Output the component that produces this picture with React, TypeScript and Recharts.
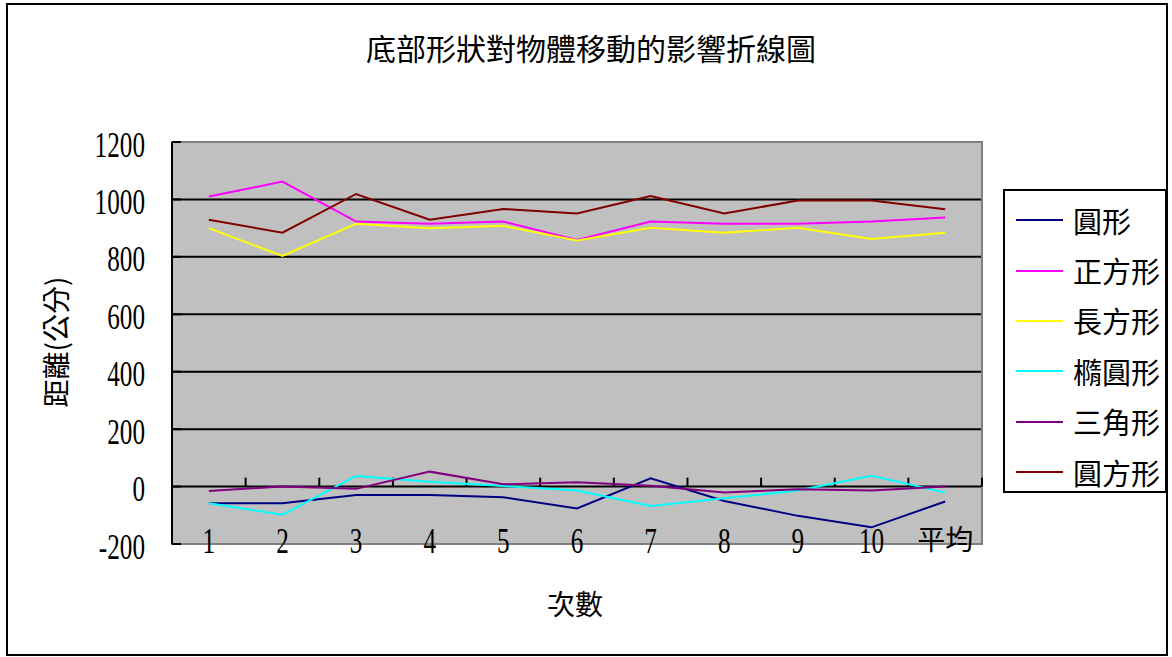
import { CartesianGrid, Line, LineChart, ReferenceArea, ReferenceLine, XAxis, YAxis } from "recharts";

// 次數 (category axis)
const categories = ["1", "2", "3", "4", "5", "6", "7", "8", "9", "10", "平均"];

// 距離(公分) per shape
const circle = [-58, -58, -29, -29, -37, -76, 29, -50, -102, -142, -52];
const square = [1010, 1062, 923, 915, 923, 859, 923, 915, 915, 923, 937];
const rectangle = [900, 803, 915, 900, 908, 857, 901, 884, 901, 862, 884];
const ellipse = [-58, -98, 37, 17, 2, -14, -68, -41, -14, 38, -21];
const triangle = [-15, 0, -8, 52, 8, 15, 3, -21, -9, -14, 0];
const roundSquare = [929, 884, 1019, 929, 967, 951, 1012, 951, 996, 996, 966];

const yTicks = [-200, 0, 200, 400, 600, 800, 1000, 1200];
const gridValues = [0, 200, 400, 600, 800, 1000];

const series = [
  { name: "圓形", values: circle, color: "#000080" },
  { name: "正方形", values: square, color: "#FF00FF" },
  { name: "長方形", values: rectangle, color: "#FFFF00" },
  { name: "橢圓形", values: ellipse, color: "#00FFFF" },
  { name: "三角形", values: triangle, color: "#800080" },
  { name: "圓方形", values: roundSquare, color: "#800000" },
];

const data = categories.map((c, i) => {
  const row: Record<string, string | number> = { name: c };
  series.forEach((s) => (row[s.name] = s.values[i]));
  return row;
});

const FONT_CJK = '"Noto Sans CJK TC", "Noto Sans CJK SC", sans-serif';
const FONT_NUM = '"Liberation Serif", "DejaVu Serif", serif';

function NumText({ x, y, text, anchor }: { x: number; y: number; text: string; anchor: "start" | "middle" | "end" }) {
  return (
    <text
      transform={`translate(${x},${y}) scale(0.72,1)`}
      textAnchor={anchor}
      dy="0.36em"
      fontFamily={FONT_NUM}
      fontSize={35}
      fill="#000"
    >
      {text}
    </text>
  );
}

function YTick({ x, y, payload }: any) {
  return <NumText x={x} y={y + 2} text={String(payload.value)} anchor="end" />;
}

function XTick({ x, y, payload }: any) {
  const v = String(payload.value);
  if (/^\d+$/.test(v)) return <NumText x={x} y={y - 4} text={v} anchor="middle" />;
  return (
    <text x={x} y={y - 4} dy="0.36em" textAnchor="middle" fontFamily={FONT_CJK} fontSize={28} fill="#000">
      {v}
    </text>
  );
}

// tick marks on the zero line sit between categories and at the right edge
const tickMarks = [
  ...categories.slice(1).map((c) => ({ cat: c, position: "start" as const })),
  { cat: categories[categories.length - 1], position: "end" as const },
];

export default function App() {
  return (
    <div style={{ position: "absolute", left: 0, top: 0, width: 1172, height: 657, background: "#fff", fontFamily: FONT_CJK }}>
      <div
        style={{
          position: "absolute",
          left: 6,
          top: 3,
          width: 1162,
          height: 653,
          border: "2px solid #000",
          boxSizing: "border-box",
        }}
      />
      <LineChart
        width={1172}
        height={657}
        data={data}
        margin={{ top: 142, right: 190, bottom: 83, left: 112 }}
        style={{ position: "absolute", left: 0, top: 0 }}
      >
        <CartesianGrid
          vertical={false}
          horizontalValues={gridValues}
          stroke="#000"
          strokeWidth={2}
          fill="#C0C0C0"
          fillOpacity={1}
        />
        <ReferenceArea
          x1={categories[0]}
          x2={categories[categories.length - 1]}
          y1={-200}
          y2={1200}
          fill="none"
          stroke="#808080"
          strokeWidth={2}
          ifOverflow="visible"
        />
        <XAxis
          dataKey="name"
          scale="band"
          height={30}
          axisLine={false}
          tickLine={false}
          tickSize={0}
          tickMargin={0}
          interval={0}
          tick={XTick}
        />
        <YAxis
          width={60}
          domain={[-200, 1200]}
          ticks={yTicks}
          interval={0}
          axisLine={{ stroke: "#000", strokeWidth: 2 }}
          tickLine={{ stroke: "#000", strokeWidth: 2 }}
          tickSize={-9}
          tickMargin={36}
          tick={YTick}
        />
        {tickMarks.map((t) => (
          <ReferenceLine
            key={t.cat + t.position}
            position={t.position}
            segment={[
              { x: t.cat, y: 0 },
              { x: t.cat, y: 31 },
            ]}
            stroke="#000"
            strokeWidth={2}
          />
        ))}
        {series.map((s) => (
          <Line
            key={s.name}
            dataKey={s.name}
            stroke={s.color}
            strokeWidth={2}
            dot={false}
            activeDot={false}
            isAnimationActive={false}
          />
        ))}
      </LineChart>
      <div
        style={{
          position: "absolute",
          left: 591,
          top: 47,
          transform: "translate(-50%, -50%)",
          fontSize: 30,
          lineHeight: 1,
          whiteSpace: "nowrap",
          color: "#000",
        }}
      >
        底部形狀對物體移動的影響折線圖
      </div>
      <div
        style={{
          position: "absolute",
          left: 575,
          top: 603,
          transform: "translate(-50%, -50%)",
          fontSize: 28,
          lineHeight: 1,
          whiteSpace: "nowrap",
        }}
      >
        次數
      </div>
      <div
        style={{
          position: "absolute",
          left: 55,
          top: 342,
          transform: "translate(-50%, -50%) rotate(-90deg)",
          fontSize: 28,
          lineHeight: 1,
          whiteSpace: "nowrap",
        }}
      >
        距離(公分)
      </div>
      <div
        style={{
          position: "absolute",
          left: 1003,
          top: 189,
          width: 164,
          height: 304,
          border: "2px solid #000",
          boxSizing: "border-box",
          paddingTop: 4,
          background: "#fff",
        }}
      >
        {series.map((s) => (
          <div key={s.name} style={{ display: "flex", alignItems: "center", height: 50.4 }}>
            <span style={{ marginLeft: 11, width: 47, height: 2, background: s.color, display: "inline-block" }} />
            <span style={{ marginLeft: 10, fontSize: 29, lineHeight: 1, whiteSpace: "nowrap" }}>{s.name}</span>
          </div>
        ))}
      </div>
    </div>
  );
}
